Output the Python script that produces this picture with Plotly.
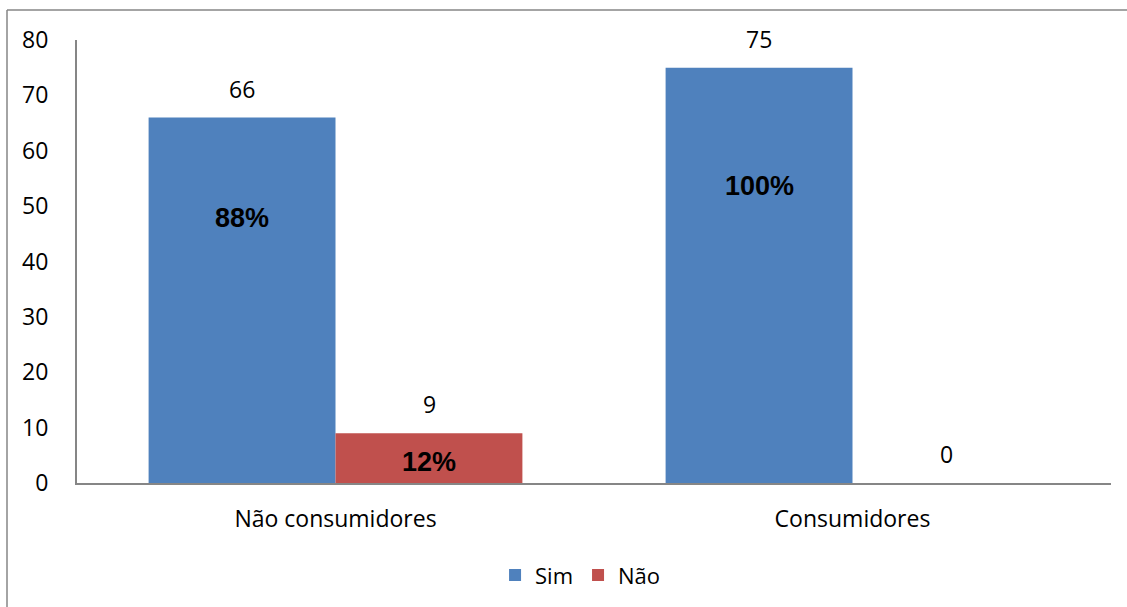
import plotly.graph_objects as go

categories = ["Não consumidores", "Consumidores"]
series_names = ["Sim", "Não"]
sim_values = [66, 75]
nao_values = [9, 0]
y_ticks = [0, 10, 20, 30, 40, 50, 60, 70, 80]

colors = {"Sim": "#4F81BD", "Não": "#C0504D"}
font_main = "Open Sans, Liberation Sans, sans-serif"

W, H = 1127, 607
L, R, T, B = 77, 16, 40, 124
BAR_PX = 187

fig = go.Figure()
for name, vals in zip(series_names, [sim_values, nao_values]):
    fig.add_trace(go.Bar(
        name=name, x=categories, y=vals,
        marker=dict(color=colors[name], line=dict(width=0)),
    ))

# value labels above each bar
annotations = []
offsets = [-0.5, 0.5]
for k, vals in enumerate([sim_values, nao_values]):
    for i, v in enumerate(vals):
        annotations.append(dict(
            x=i, y=v, xref="x", yref="y", text=str(v), showarrow=False,
            xshift=offsets[k] * BAR_PX, yanchor="bottom", yshift=11,
            font=dict(family=font_main, size=23, color="#000000"),
        ))

# percentage labels inside the bars
totals = [s + n for s, n in zip(sim_values, nao_values)]
pct_items = [
    (0, 0, sim_values[0], 47.8),
    (0, 1, nao_values[0], 3.8),
    (1, 0, sim_values[1], 53.6),
]
for cat, k, v, ypos in pct_items:
    pct = round(100 * v / totals[cat])
    annotations.append(dict(
        x=cat, y=ypos, xref="x", yref="y", text=f"<b>{pct}%</b>",
        showarrow=False, xshift=offsets[k] * BAR_PX,
        font=dict(family="Liberation Sans, Arial, sans-serif", size=27, color="#000000"),
    ))

fig.update_layout(
    width=W, height=H,
    margin=dict(l=L, r=R, t=T, b=B, autoexpand=False),
    paper_bgcolor="white", plot_bgcolor="white",
    barmode="group", bargap=0.277, bargroupgap=0,
    font=dict(family=font_main, size=23, color="#000000"),
    showlegend=True,
    legend=dict(orientation="h", x=0.487, xanchor="center", y=-0.208, yanchor="middle",
                font=dict(family=font_main, size=22), itemwidth=30,
                traceorder="normal"),
    annotations=annotations,
    xaxis=dict(showline=True, linecolor="#868686", linewidth=2, ticks="",
               showgrid=False, tickfont=dict(size=23), ticklabelstandoff=14),
    yaxis=dict(range=[0, 80], tickvals=y_ticks, showline=True, linecolor="#868686",
               linewidth=2, ticks="", showgrid=False, zeroline=False,
               tickfont=dict(size=23), ticklabelstandoff=22),
    shapes=[
        dict(type="line", xref="paper", yref="paper",
             x0=(7 - L) / (W - L - R), x1=(7 - L) / (W - L - R),
             y0=(H - B - 10) / (H - T - B), y1=-(B) / (H - T - B),
             line=dict(color="#868686", width=1.5)),
        dict(type="line", xref="paper", yref="paper",
             x0=(7 - L) / (W - L - R), x1=(W - L) / (W - L - R),
             y0=(H - B - 10) / (H - T - B), y1=(H - B - 10) / (H - T - B),
             line=dict(color="#868686", width=1.5)),
    ],
)

fig.write_html("out.html")
